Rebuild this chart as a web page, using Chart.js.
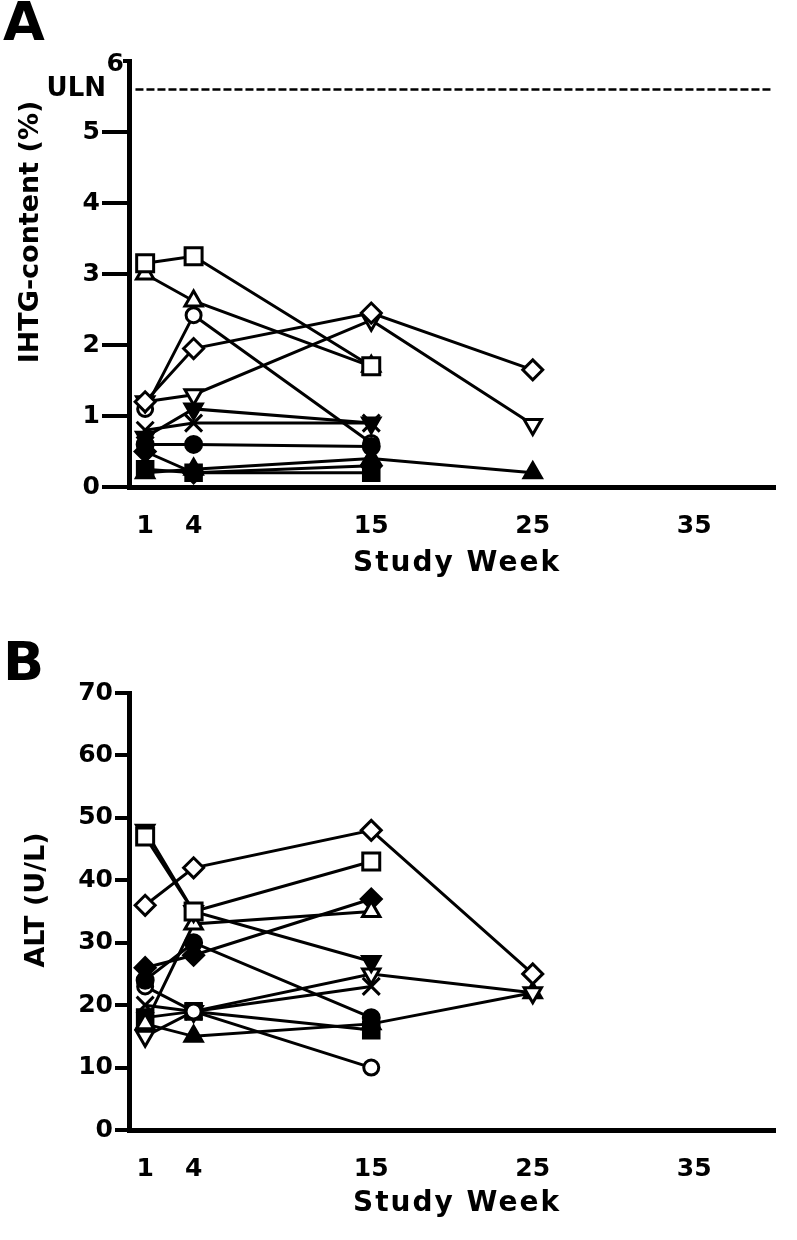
<!DOCTYPE html>
<html>
<head>
<meta charset="utf-8">
<script src="https://cdn.jsdelivr.net/npm/chart.js@4.4.1/dist/chart.umd.min.js"></script>
<style>
  html, body { margin: 0; padding: 0; background: #fff; }
  body { width: 797px; height: 1240px; position: relative; overflow: hidden; }
  canvas { position: absolute; left: 0; }
  #cA { top: 0; }
  #cB { top: 620px; }
</style>
</head>
<body>
<canvas id="cA" width="797" height="620"></canvas>
<canvas id="cB" width="797" height="620"></canvas>
<script>
// ---------- data ----------
const weeks = [1, 4, 15, 25];
const xTickLabels = [1, 4, 15, 25, 35];
const ihtgTicks = [0, 1, 2, 3, 4, 5, 6];
const altTicks = [0, 10, 20, 30, 40, 50, 60, 70];
const ulnValue = 5.6;

// Panel A: IHTG-content (%) per subject at weeks 1, 4, 15, 25
const ihtgOpenSquare     = [3.15, 3.25, 1.7, null];
const ihtgOpenTriangle   = [3.0, 2.62, 1.7, null];
const ihtgOpenDiamond    = [1.2, 1.95, 2.45, 1.65];
const ihtgOpenInvTri     = [1.2, 1.3, 2.35, 0.88];
const ihtgOpenCircle     = [1.1, 2.42, 0.62, null];
const ihtgCross          = [0.8, 0.9, 0.9, null];
const ihtgFilledInvTri   = [0.7, 1.1, 0.9, null];
const ihtgFilledCircle   = [0.6, 0.6, 0.57, null];
const ihtgFilledDiamond  = [0.5, 0.2, 0.3, null];
const ihtgFilledSquare   = [0.25, 0.2, 0.2, null];
const ihtgFilledTriangle = [0.2, 0.25, 0.4, 0.2];

// Panel B: ALT (U/L) per subject at weeks 1, 4, 15, 25
const altOpenSquare     = [47, 35, 43, null];
const altOpenTriangle   = [17, 33, 35, null];
const altOpenDiamond    = [36, 42, 48, 25];
const altOpenInvTri     = [15, 19, 25, 22];
const altOpenCircle     = [23, 19, 10, null];
const altCross          = [20, 19, 23, null];
const altFilledInvTri   = [48, 35, 27, null];
const altFilledCircle   = [24, 30, 18, null];
const altFilledDiamond  = [26, 28, 37, null];
const altFilledSquare   = [18, 19, 16, null];
const altFilledTriangle = [17, 15, 17, 22];

// ---------- styles ----------
const FONT = "'DejaVu Sans', sans-serif";
const markers = {
  openSquare:     { pointStyle: 'rect', rot: 0, r: 12, fill: '#fff' },
  openTriangle:   { pointStyle: 'triangle', rot: 0, r: 10, fill: '#fff' },
  openDiamond:    { pointStyle: 'rectRot', rot: 0, r: 10, fill: '#fff' },
  openInvTri:     { pointStyle: 'triangle', rot: 180, r: 10, fill: '#fff' },
  openCircle:     { pointStyle: 'circle', rot: 0, r: 7.5, fill: '#fff' },
  cross:          { pointStyle: 'crossRot', rot: 0, r: 12, fill: '#000' },
  filledInvTri:   { pointStyle: 'triangle', rot: 180, r: 10, fill: '#000' },
  filledCircle:   { pointStyle: 'circle', rot: 0, r: 8, fill: '#000' },
  filledDiamond:  { pointStyle: 'rectRot', rot: 0, r: 10, fill: '#000' },
  filledSquare:   { pointStyle: 'rect', rot: 0, r: 11, fill: '#000' },
  filledTriangle: { pointStyle: 'triangle', rot: 0, r: 10, fill: '#000' }
};

function series(values, key) {
  const m = markers[key];
  const pts = [];
  values.forEach((v, i) => { if (v !== null) pts.push({ x: weeks[i], y: v }); });
  return {
    data: pts,
    borderColor: '#000',
    borderWidth: 3,
    backgroundColor: m.fill,
    pointStyle: m.pointStyle,
    pointRotation: m.rot,
    pointRadius: m.r,
    pointBorderWidth: 3,
    pointBorderColor: '#000',
    pointBackgroundColor: m.fill,
    fill: false,
    tension: 0,
    clip: false
  };
}

function makeChart(id, cfg) {
  const annotPlugin = {
    id: 'annot_' + id,
    afterDraw(chart) {
      const ctx = chart.ctx;
      const ca = chart.chartArea;
      ctx.save();
      ctx.fillStyle = '#000';
      ctx.strokeStyle = '#000';
      // panel letter
      ctx.font = 'bold 54px ' + FONT;
      ctx.textAlign = 'left';
      ctx.textBaseline = 'alphabetic';
      ctx.fillText(cfg.letter, 3, cfg.letterBaseline);
      // x-axis title
      ctx.font = 'bold 28px ' + FONT;
      try { ctx.letterSpacing = '2px'; } catch (e) {}
      ctx.textAlign = 'center';
      ctx.textBaseline = 'middle';
      ctx.fillText('Study Week', cfg.xTitleX, cfg.xTitleY);
      // y-axis title
      ctx.save();
      ctx.translate(cfg.yTitleX, cfg.yTitleY);
      ctx.rotate(-Math.PI / 2);
      ctx.font = 'bold 27px ' + FONT;
      try { ctx.letterSpacing = '0px'; } catch (e) {}
      ctx.fillText(cfg.yTitle, 0, 0);
      ctx.restore();
      try { ctx.letterSpacing = '0px'; } catch (e) {}
      if (cfg.uln) {
        const y = chart.scales.y.getPixelForValue(ulnValue);
        ctx.font = 'bold 26px ' + FONT;
        ctx.textAlign = 'right';
        ctx.textBaseline = 'middle';
        ctx.fillText('ULN', 106, y);
        // top tick label "6" sits next to the axis with a short tick
        const yTop = chart.scales.y.getPixelForValue(cfg.yMax);
        ctx.font = 'bold 25px ' + FONT;
        ctx.fillText(String(cfg.yMax), 124, yTop + 3);
        ctx.lineWidth = 4;
        ctx.beginPath();
        ctx.moveTo(123, yTop);
        ctx.lineTo(ca.left, yTop);
        ctx.stroke();
      }
      ctx.restore();
    }
  };
  const datasets = cfg.datasets.slice();
  if (cfg.uln) {
    datasets.push({
      data: [{ x: 0.4, y: ulnValue }, { x: 39.75, y: ulnValue }],
      borderColor: '#000', borderWidth: 2.5, borderDash: [8, 3],
      pointRadius: 0, fill: false, clip: false
    });
  }
  return new Chart(document.getElementById(id), {
    type: 'line',
    data: { datasets },
    options: {
      responsive: false,
      animation: false,
      events: [],
      layout: { padding: { top: cfg.top, right: 22, left: 0, bottom: 0 } },
      plugins: { legend: { display: false }, tooltip: { enabled: false } },
      scales: {
        x: {
          type: 'linear', min: 0, max: 40,
          afterBuildTicks: s => { s.ticks = xTickLabels.map(v => ({ value: v })); },
          afterFit: s => { s.height = cfg.xHeight; },
          grid: { display: false, drawTicks: false },
          border: { display: true, width: 5, color: '#000' },
          ticks: { padding: 24, color: '#000', font: { family: FONT, size: 25, weight: 'bold' }, maxRotation: 0, autoSkip: false },
          title: { display: false }
        },
        y: {
          type: 'linear', min: cfg.yMin, max: cfg.yMax,
          afterBuildTicks: s => { s.ticks = cfg.yTicks.map(v => ({ value: v })); },
          afterFit: s => { s.width = 129; },
          grid: {
            display: true, drawOnChartArea: false, drawTicks: true,
            tickLength: cfg.tickLen, tickWidth: 4,
            tickColor: c => (cfg.uln && c.tick && c.tick.value === cfg.yMax) ? 'rgba(0,0,0,0)' : '#000',
            color: '#000', lineWidth: 4
          },
          border: { display: true, width: 5, color: '#000' },
          ticks: {
            padding: 2, color: '#000', font: { family: FONT, size: 25, weight: 'bold' }, autoSkip: false,
            callback: v => (cfg.uln && v === cfg.yMax) ? '' : String(v)
          },
          title: { display: false }
        }
      }
    },
    plugins: [annotPlugin]
  });
}

makeChart('cA', {
  letter: 'A', letterBaseline: 40, uln: true,
  top: 61, xHeight: 133, tickLen: 27,
  xTitleX: 457, xTitleY: 564, yTitleX: 31, yTitleY: 232,
  yMin: 0, yMax: 6, yTicks: ihtgTicks, yTitle: 'IHTG-content (%)',
  datasets: [
    series(ihtgOpenSquare, 'openSquare'),
    series(ihtgOpenTriangle, 'openTriangle'),
    series(ihtgFilledCircle, 'filledCircle'),
    series(ihtgOpenDiamond, 'openDiamond'),
    series(ihtgOpenInvTri, 'openInvTri'),
    series(ihtgCross, 'cross'),
    series(ihtgFilledInvTri, 'filledInvTri'),
    series(ihtgOpenCircle, 'openCircle'),
    series(ihtgFilledDiamond, 'filledDiamond'),
    series(ihtgFilledSquare, 'filledSquare'),
    series(ihtgFilledTriangle, 'filledTriangle')
  ]
});

makeChart('cB', {
  letter: 'B', letterBaseline: 60, uln: false,
  top: 73, xHeight: 110, tickLen: 14,
  xTitleX: 457, xTitleY: 584, yTitleX: 37, yTitleY: 280,
  yMin: 0, yMax: 70, yTicks: altTicks, yTitle: 'ALT (U/L)',
  datasets: [
    series(altOpenSquare, 'openSquare'),
    series(altFilledInvTri, 'filledInvTri'),
    series(altOpenDiamond, 'openDiamond'),
    series(altOpenTriangle, 'openTriangle'),
    series(altFilledDiamond, 'filledDiamond'),
    series(altFilledCircle, 'filledCircle'),
    series(altOpenCircle, 'openCircle'),
    series(altCross, 'cross'),
    series(altOpenInvTri, 'openInvTri'),
    series(altFilledSquare, 'filledSquare'),
    series(altFilledTriangle, 'filledTriangle')
  ]
});
</script>
</body>
</html>
